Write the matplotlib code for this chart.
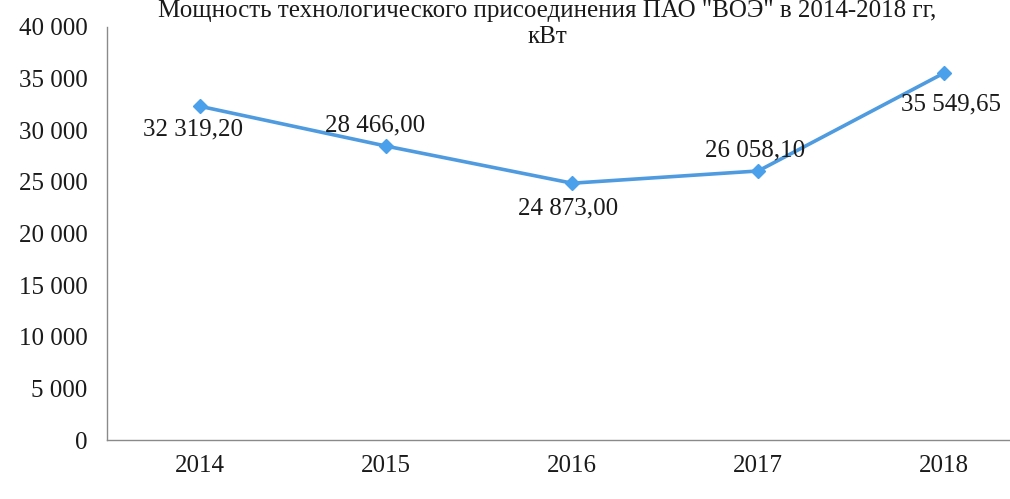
import matplotlib
matplotlib.use("Agg")
import matplotlib.pyplot as plt
from matplotlib.ticker import FuncFormatter

years = ["2014", "2015", "2016", "2017", "2018"]
power_kw = [32319.20, 28466.00, 24873.00, 26058.10, 35549.65]
title = "Мощность технологического присоединения ПАО \"ВОЭ\" в 2014-2018 гг,\nкВт"

# label offsets (points) relative to each marker
label_offsets = [(-5, -17), (-8, 15), (-3, -18), (-2, 15), (5, -23)]

plt.rcParams["font.family"] = ["Liberation Serif", "DejaVu Serif"]


def fmt_int(v, pos=None):
    return f"{v:,.0f}".replace(",", " ")


def fmt_val(v):
    return f"{v:,.2f}".replace(",", " ").replace(".", ",")


fig = plt.figure(figsize=(10.10, 4.99), dpi=100)
ax = fig.add_axes([0.106, 0.118, 0.921, 0.828])

x = range(len(years))
ax.plot(x, power_kw, color="#4f9be0", lw=2.6, marker="D", ms=7,
        mfc="#4aa0ea", mec="#4aa0ea", solid_capstyle="round")

for i, (v, off) in enumerate(zip(power_kw, label_offsets)):
    ax.annotate(fmt_val(v), (i, v), xytext=off, textcoords="offset points",
                ha="center", va="center", fontsize=18, color="#1a1a1a")

ax.set_xlim(-0.5, 4.5)
ax.set_ylim(0, 40000)
ax.set_yticks(range(0, 40001, 5000))
ax.yaxis.set_major_formatter(FuncFormatter(fmt_int))
ax.set_xticks(list(x))
ax.set_xticklabels(years)
ax.tick_params(axis="both", length=0, labelsize=18, colors="#1a1a1a")
ax.tick_params(axis="y", pad=14)
ax.tick_params(axis="x", pad=11)

for s in ["top", "right"]:
    ax.spines[s].set_visible(False)
for s in ["left", "bottom"]:
    ax.spines[s].set_color("#8a8a8a")
    ax.spines[s].set_linewidth(1.0)

fig.text(0.542, 0.999, title, ha="center", va="top", fontsize=18,
         color="#1a1a1a", linespacing=1.2)

fig.savefig("out.png", dpi=100)
